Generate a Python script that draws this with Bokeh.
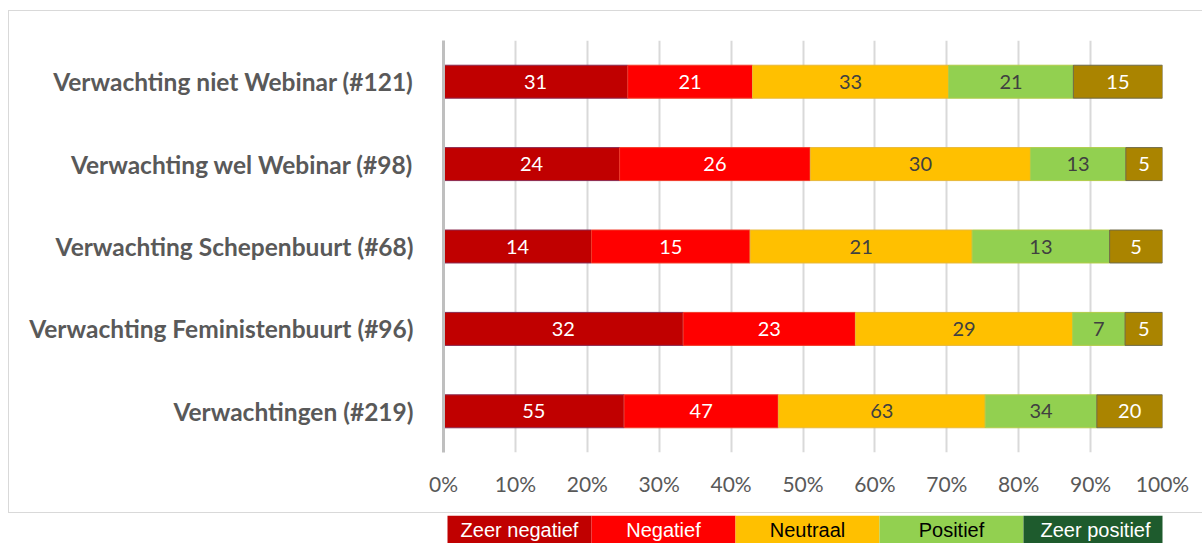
from bokeh.plotting import figure
from bokeh.models import (ColumnDataSource, FactorRange, LabelSet,
                          NumeralTickFormatter, FixedTicker, Range1d)
from bokeh.layouts import column
from bokeh.embed import file_html
from bokeh.resources import INLINE
from bokeh.core.properties import value

categories = ["Verwachting niet Webinar (#121)",
              "Verwachting wel Webinar (#98)",
              "Verwachting Schepenbuurt (#68)",
              "Verwachting Feministenbuurt (#96)",
              "Verwachtingen (#219)"]
series = ["Zeer negatief", "Negatief", "Neutraal", "Positief", "Zeer positief"]
zeer_negatief = [31, 24, 14, 32, 55]
negatief = [21, 26, 15, 23, 47]
neutraal = [33, 30, 21, 29, 63]
positief = [21, 13, 13, 7, 34]
zeer_positief = [15, 5, 5, 5, 20]
tick_values = [0, 0.1, 0.2, 0.3, 0.4, 0.5, 0.6, 0.7, 0.8, 0.9, 1.0]

bar_colors = ["#C00000", "#FF0000", "#FFC000", "#92D050", "#AA8400"]
bar_edges = ["#8A2A50", "#F03A2A", "#E8B838", "#B0CC48", "#6E6A48"]
legend_colors = ["#C00000", "#FF0000", "#FFC000", "#92D050", "#1E5B2D"]
label_colors = ["#FFFFFF", "#FFFFFF", "#404040", "#404040", "#FFFFFF"]
legend_text_colors = ["#FFFFFF", "#FFFFFF", "#000000", "#000000", "#FFFFFF"]

all_series = [zeer_negatief, negatief, neutraal, positief, zeer_positief]
totals = [sum(s[i] for s in all_series) for i in range(len(categories))]

# main chart: box starts at page (8, 10); canvas at (9, 11)
p = figure(width=1194, height=503, output_backend="svg", toolbar_location=None,
           y_range=FactorRange(factors=categories[::-1]), x_range=Range1d(0, 1),
           min_border_left=434, min_border_right=41, min_border_top=29,
           min_border_bottom=62)
p.margin = (10, 0, 0, 8)
p.styles = {"border-top": "1px solid #D9D9D9", "border-left": "1px solid #D9D9D9",
            "border-bottom": "1px solid #D9D9D9"}
p.outline_line_color = None
p.background_fill_color = "white"
p.border_fill_color = "white"

cum = [0.0] * len(categories)
for k, s in enumerate(all_series):
    left = list(cum)
    right = [cum[i] + s[i] / totals[i] for i in range(len(categories))]
    cum = right
    src = ColumnDataSource(dict(y=categories, left=left, right=right,
                                mid=[(a + b) / 2 for a, b in zip(left, right)],
                                txt=[str(v) for v in s]))
    p.hbar(y="y", left="left", right="right", height=0.4, source=src,
           fill_color=bar_colors[k], line_color=bar_edges[k], line_width=1)
    p.add_layout(LabelSet(x="mid", y="y", text="txt", source=src,
                          text_align="center", text_baseline="middle",
                          text_font=value("Lato"), text_font_size="20px",
                          text_color=label_colors[k]))

p.xaxis.ticker = FixedTicker(ticks=tick_values)
p.xaxis.formatter = NumeralTickFormatter(format="0%")
p.xaxis.axis_line_color = None
p.xaxis.major_tick_line_color = None
p.xaxis.minor_tick_line_color = None
p.xaxis.major_label_standoff = 12
p.xaxis.major_label_text_font = "Lato"
p.xaxis.major_label_text_font_size = "21px"
p.xaxis.major_label_text_color = "#595959"

p.yaxis.axis_line_color = "#BFBFBF"
p.yaxis.axis_line_width = 3
p.yaxis.major_tick_line_color = None
p.yaxis.minor_tick_line_color = None
p.yaxis.major_label_standoff = 24
p.yaxis.major_label_text_font = "Lato"
p.yaxis.major_label_text_font_style = "bold"
p.yaxis.major_label_text_font_size = "24.5px"
p.yaxis.major_label_text_color = "#595959"

p.xgrid.grid_line_color = "#D9D9D9"
p.xgrid.grid_line_width = 2
p.ygrid.grid_line_color = None

# legend strip below the chart box, frame aligned with chart
L0, LW = 447.0, 144.0
lp = figure(width=1194, height=28, output_backend="svg", toolbar_location=None,
            x_range=Range1d((443 - L0) / LW, (1162 - L0) / LW), y_range=Range1d(0, 1),
            min_border_left=434, min_border_right=41, min_border_top=0,
            min_border_bottom=0)
lp.margin = (2, 0, 0, 9)
lp.axis.visible = False
lp.grid.visible = False
lp.outline_line_color = None
lp.border_fill_color = None
lsrc = ColumnDataSource(dict(l=list(range(5)), r=[i + 1 for i in range(5)],
                             c=[i + 0.5 for i in range(5)], name=series,
                             fc=legend_colors, tc=legend_text_colors))
lp.quad(left="l", right="r", bottom=0, top=1, source=lsrc, fill_color="fc",
        line_color=None)
lp.text(x="c", y=0.5, text="name", source=lsrc, text_align="center",
        text_baseline="middle", text_font=value("Liberation Sans"),
        text_font_size="20px", text_color="tc")

layout = column(p, lp, spacing=0)
open("out.html", "w").write(file_html(layout, INLINE))
